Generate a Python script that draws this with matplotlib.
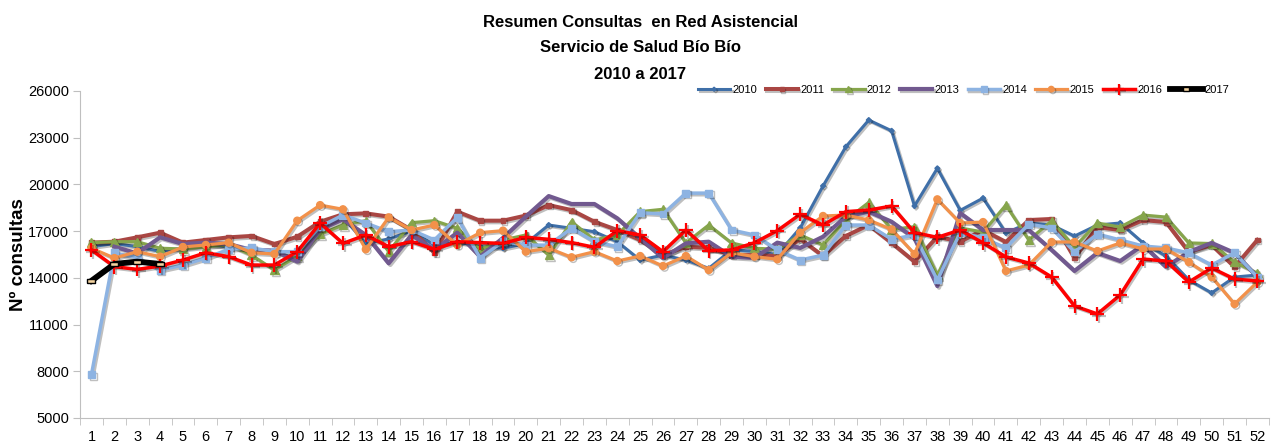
import numpy as np
import matplotlib.pyplot as plt
import matplotlib.patheffects as pe
from matplotlib.ticker import FixedLocator

plt.rcParams['font.family'] = ['Liberation Sans', 'DejaVu Sans']

weeks = np.arange(1, 53)

y2010 = [16000, 16200, 16000, 15700, 15900, 16100, 16000, 15800, 15700, 15200,
         17200, 17900, 16200, 16500, 17000, 16100, 16300, 16000, 15900, 16200,
         17390, 17180, 16960, 16320, 15140, 15460, 15140, 14610, 15790, 15700,
         15500, 17200, 19900, 22420, 24130, 23440, 18610, 21030, 18330, 19120,
         16880, 17520, 17390, 16680, 17390, 17520, 16240, 15400, 13860, 13030, 14050, 14180]
y2011 = [16260, 16320, 16600, 16900, 16260, 16430, 16600, 16690, 16170, 16640,
         17600, 18080, 18140, 17930, 17070, 15610, 18250, 17670, 17670, 18000,
         18670, 18350, 17600, 17070, 16430, 15460, 16000, 15920, 15460, 15460,
         15400, 16500, 15400, 16690, 17390, 16240, 15040, 16640, 16320, 17070,
         16300, 17710, 17780, 15270, 17260, 17070, 17710, 17580, 15660, 16110, 14700, 16430]
y2012 = [16260, 16320, 16320, 15900, 15850, 16000, 16110, 15460, 14500, 15400,
         16800, 17390, 17670, 15680, 17540, 17670, 17180, 15830, 16430, 16750,
         15460, 17600, 16430, 16750, 18250, 18400, 16240, 17390, 16240, 15900,
         15830, 16750, 16110, 17710, 18840, 17110, 17280, 14180, 17200, 16940,
         18670, 16430, 17650, 15980, 17520, 17260, 18030, 17900, 16240, 16200, 15010, 14300]
y2013 = [np.nan, 16000, 15570, 16600, 16170, 16260, 16170, 15790, 15750, 15040,
         17100, 17760, 16750, 14930, 16750, 15790, 16900, 15360, 16560, 17930,
         19250, 18740, 18740, 17820, 16540, 15270, 16210, 16320, 15360, 15270,
         16260, 15920, 16640, 17930, 18250, 17600, 16540, 13470, 18160, 17070,
         17070, 17070, 15790, 14440, 15600, 15080, 16110, 14700, 15660, 16240, 15600, 14050]
y2014 = [7800, 15600, 15300, 14500, 14820, 15270, 15830, 15920, 15680, 15680,
         17280, 18030, 17520, 16960, 17070, 16430, 17880, 15270, 16320, 16100,
         16100, 17180, 16320, 16000, 18180, 18100, 19440, 19440, 17070, 16750,
         15790, 15140, 15460, 17390, 17390, 16470, 16750, 13860, 16900, 16560,
         15920, 17450, 17200, 15660, 16810, 16430, 16040, 15920, 15600, 14820, 15600, 14050]
y2015 = [15900, 15270, 15680, 15360, 15980, 16110, 16260, 15610, 15530, 17670,
         18670, 18400, 15830, 17880, 17070, 17390, 16110, 16900, 17030, 15680,
         15900, 15320, 15680, 15080, 15400, 14760, 15400, 14500, 15610, 15360,
         15190, 16900, 17970, 18030, 17710, 17110, 15530, 19040, 17520, 17580,
         14440, 14820, 16300, 16300, 15720, 16240, 15850, 15850, 15010, 14050, 12320, 13730]
y2016 = [15790, 14720, 14540, 14760, 15140, 15610, 15360, 14820, 14820, 15680,
         17520, 16210, 16750, 16000, 16320, 15830, 16320, 16260, 16210, 16600,
         16470, 16260, 15960, 17030, 16750, 15680, 17070, 15740, 15790, 16250,
         17030, 18080, 17390, 18250, 18350, 18610, 16900, 16600, 17070, 16240,
         15340, 14950, 14050, 12190, 11680, 12900, 15200, 15080, 13730, 14630, 13920, 13800]
y2017 = [13810, 14890, 15040, 14890]

fig = plt.figure(figsize=(12.81, 4.48), dpi=100)
ax = fig.add_axes([0.0625, 0.067, 0.928, 0.730])

shadow = [pe.SimpleLineShadow(offset=(1.2, -1.2), alpha=0.25), pe.Normal()]
rect = [(-1, -0.45), (1, -0.45), (1, 0.45), (-1, 0.45), (-1, -0.45)]

ax.plot(weeks, y2010, color='#3F6FA8', lw=2.2, marker='D', ms=2.5, label='2010',
        path_effects=shadow)
ax.plot(weeks, y2011, color='#A94643', lw=2.9, marker='s', ms=3.5, label='2011',
        path_effects=shadow)
ax.plot(weeks, y2012, color='#86A54C', lw=2.3, marker='^', ms=6, label='2012',
        path_effects=shadow)
ax.plot(weeks, y2013, color='#71598F', lw=3.0, label='2013', path_effects=shadow)
ax.plot(weeks, y2014, color='#8DB3E2', lw=2.5, marker='s', ms=5, label='2014',
        path_effects=shadow)
ax.plot(weeks, y2015, color='#F2914A', lw=2.3, marker='o', ms=5, label='2015',
        path_effects=shadow)
ax.plot(weeks, y2016, color='#FF0000', lw=2.5, marker='+', ms=10, mew=1.6, label='2016',
        path_effects=shadow)
ax.plot(weeks[:4], y2017, color='black', lw=4.2, marker=rect, ms=6,
        mfc='#F3D3A0', mec='black', mew=1, label='2017')

ax.set_xlim(0.5, 52.5)
ax.set_ylim(5000, 26000)
ax.set_yticks(np.arange(5000, 26001, 3000))
ax.set_xticks(weeks)
ax.xaxis.set_minor_locator(FixedLocator(np.arange(0.5, 53, 1)))
ax.tick_params(axis='x', which='major', length=0, pad=9, labelsize=10.5)
ax.tick_params(axis='x', which='minor', length=5, color='#BFBFBF', direction='out')
ax.tick_params(axis='y', length=5, color='#BFBFBF', labelsize=10.5, pad=3)
for s in ['top', 'right']:
    ax.spines[s].set_visible(False)
for s in ['left', 'bottom']:
    ax.spines[s].set_color('#BFBFBF')

ax.set_ylabel('Nº consultas', fontsize=13.5, fontweight='bold')
ax.yaxis.set_label_coords(-0.045, 0.5)

fig.text(0.5, 0.95, 'Resumen Consultas  en Red Asistencial', ha='center', va='center',
         fontsize=12, fontweight='bold')
fig.text(0.5, 0.895, 'Servicio de Salud Bío Bío', ha='center', va='center',
         fontsize=12, fontweight='bold')
fig.text(0.5, 0.833, '2010 a 2017', ha='center', va='center',
         fontsize=12, fontweight='bold')

fig.legend(loc='center left', bbox_to_anchor=(698 / 1281, 0.799), ncol=8, frameon=False,
           fontsize=8, handlelength=2.9, handletextpad=0.2, columnspacing=0.75,
           borderpad=0, borderaxespad=0, markerscale=0.8)

fig.savefig('out.png', dpi=100)
